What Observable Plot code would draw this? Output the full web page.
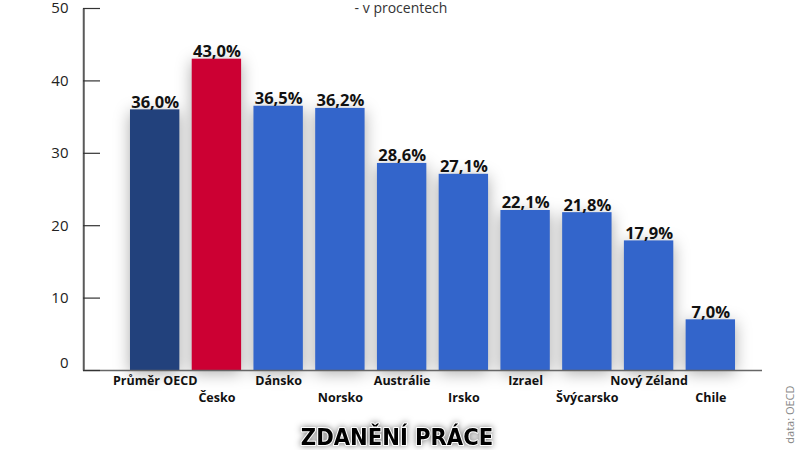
<!DOCTYPE html>
<html>
<head>
<meta charset="utf-8">
<script src="https://cdn.jsdelivr.net/npm/d3@7"></script>
<script src="https://cdn.jsdelivr.net/npm/@observablehq/plot@0.6"></script>
<style>
  body { margin: 0; background: #fff; }
  #chart svg { display: block; }
</style>
</head>
<body>
<div id="chart"></div>
<script>
const categories = ["Průměr OECD", "Česko", "Dánsko", "Norsko", "Austrálie", "Irsko", "Izrael", "Švýcarsko", "Nový Zéland", "Chile"];
const values = [36.0, 43.0, 36.5, 36.2, 28.6, 27.1, 22.1, 21.8, 17.9, 7.0];
const groups = ["oecd", "cz", "other", "other", "other", "other", "other", "other", "other", "other"];
const yTicks = [0, 10, 20, 30, 40, 50];
const title = "ZDANĚNÍ PRÁCE";
const subtitle = "- v procentech";
const source = "data: OECD";

const data = categories.map((c, i) => ({category: c, value: values[i], group: groups[i], index: i}));
const fmt = v => v.toFixed(1).replace(".", ",") + "%";

const chart = Plot.plot({
  width: 798,
  height: 450,
  marginLeft: 83,
  marginRight: 36,
  marginTop: 8,
  marginBottom: 80,
  style: {fontFamily: "'Open Sans', sans-serif", background: "#fff", overflow: "visible"},
  x: {domain: categories, range: [123.8, 741.2], paddingInner: 0.2, paddingOuter: 0.1, round: false, axis: null},
  y: {domain: [0, 50], axis: null},
  color: {domain: ["oecd", "cz", "other"], range: ["#22417c", "#cc0033", "#3365cb"]},
  marks: [
    Plot.barY(data, {x: "category", y: "value", fill: "group"}),
    Plot.frame({fill: "#5a5a5a", stroke: "none", insetLeft: -0.75, insetRight: 677.75}),
    Plot.ruleY([0], {stroke: "#666", strokeWidth: 1.5}),
    Plot.tickY(yTicks, {y: d => d, stroke: "#333", strokeWidth: 1.2, insetRight: 662}),
    Plot.axisY(yTicks.filter(t => t > 0), {tickSize: 0, tickPadding: 15, fontSize: 15, fill: "#222", tickFormat: d => d, label: null}),
    Plot.axisY([0], {tickSize: 0, tickPadding: 15, fontSize: 15, fill: "#222", tickFormat: d => d, label: null, dy: -7}),
    Plot.text(data, {x: "category", y: "value", text: d => fmt(d.value), lineAnchor: "bottom", dy: -2, fontSize: 16.5, fontWeight: 700, fill: "#111"}),
    Plot.text(data.filter(d => d.index % 2 === 0), {x: "category", text: "category", frameAnchor: "bottom", lineAnchor: "top", dy: 6, fontSize: 12.5, fontWeight: 700, fill: "#111"}),
    Plot.text(data.filter(d => d.index % 2 === 1), {x: "category", text: "category", frameAnchor: "bottom", lineAnchor: "top", dy: 23, fontSize: 12.5, fontWeight: 700, fill: "#111"}),
    Plot.text([subtitle], {frameAnchor: "top", dx: -22, dy: -5, lineAnchor: "top", fontSize: 14, fill: "#333"}),
    Plot.text([title], {frameAnchor: "bottom", dx: -26, dy: 74, lineAnchor: "bottom", fontSize: 23.5, fontWeight: 700, fill: "#000", fontFamily: "'DejaVu Sans Condensed', 'DejaVu Sans', sans-serif", stroke: "#fff", strokeWidth: 2}),
    Plot.text([source], {frameAnchor: "bottom-right", dx: 31, dy: 15, rotate: -90, fontSize: 11, fill: "#888"})
  ]
});

const barG = chart.querySelector('g[aria-label="bar"]');
if (barG) barG.style.filter = "drop-shadow(0px 3px 8px rgba(0,0,0,0.33))";
const textGs = chart.querySelectorAll('g[aria-label="text"]');
const titleG = textGs[textGs.length - 2];
if (titleG) { titleG.style.filter = "drop-shadow(0px 0px 3px rgba(0,0,0,0.5))"; titleG.style.fontStretch = "condensed"; }
document.getElementById("chart").appendChild(chart);
</script>
</body>
</html>
